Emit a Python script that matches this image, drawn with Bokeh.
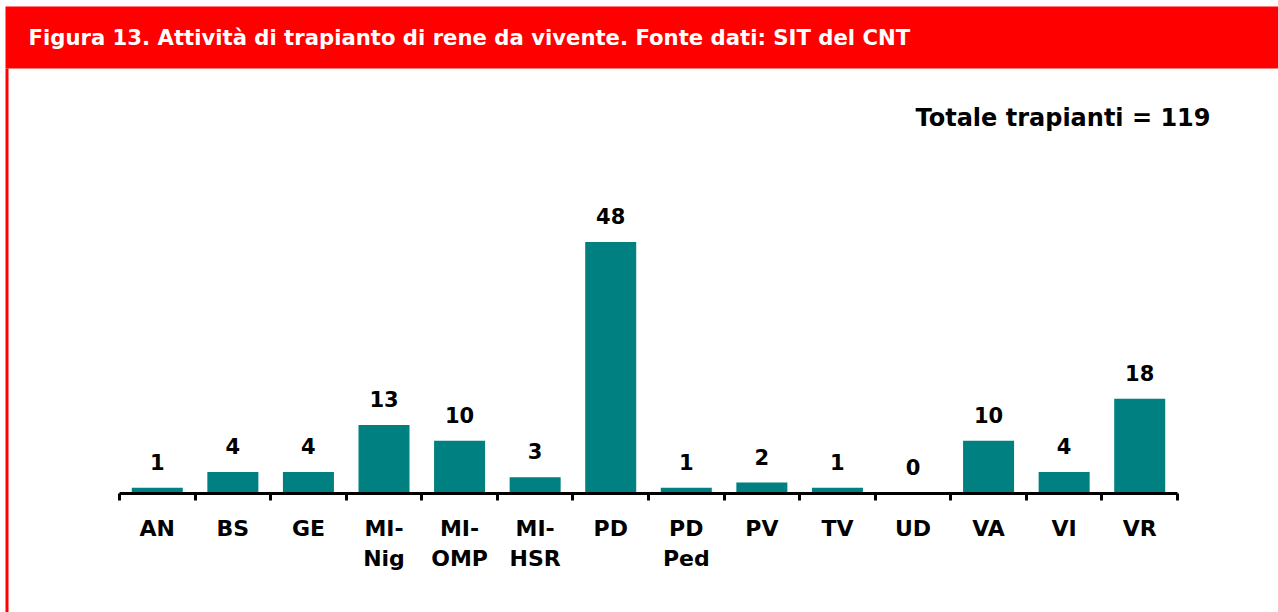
from bokeh.plotting import figure
from bokeh.models import (ColumnDataSource, Range1d, LinearAxis,
                          FixedTicker, LabelSet, Label, BoxAnnotation)
from bokeh.core.properties import value
from bokeh.embed import file_html
from bokeh.resources import INLINE

categories = ["AN", "BS", "GE", "MI-Nig", "MI-OMP", "MI-HSR", "PD", "PD Ped", "PV", "TV", "UD", "VA", "VI", "VR"]
tick_labels = ["AN", "BS", "GE", "MI-\nNig", "MI-\nOMP", "MI-\nHSR", "PD", "PD\nPed", "PV", "TV", "UD", "VA", "VI", "VR"]
values = [1, 4, 4, 13, 10, 3, 48, 1, 2, 1, 0, 10, 4, 18]
title_text = "Figura 13. Attività di trapianto di rene da vivente. Fonte dati: SIT del CNT"
total_text = "Totale trapianti = 119"

FONT = "DejaVu Sans"
RED = "#ff0000"
TEAL = "#008080"

W, H = 1278, 612
PLOT_L, PLOT_R = 119, 1177   # pixel span of the category area
AXIS_Y = 492.5               # pixel row of the x axis
PX_PER_UNIT = 5.23

n = len(categories)
u = (PLOT_R - PLOT_L) / n
centers = [i + 0.5 for i in range(n)]
src = ColumnDataSource(dict(x=centers, val=values, lab=[str(v) for v in values]))

p = figure(width=W, height=H, output_backend="svg", toolbar_location=None,
           x_range=Range1d(-PLOT_L / u, n + (W - PLOT_R) / u),
           y_range=Range1d(-(H - AXIS_Y) / PX_PER_UNIT, AXIS_Y / PX_PER_UNIT),
           x_axis_location=None, y_axis_location=None,
           min_border_left=0, min_border_right=0, min_border_top=0, min_border_bottom=0)
p.grid.visible = False
p.outline_line_color = None
p.background_fill_color = "white"
p.border_fill_color = "white"

p.vbar(x="x", top="val", width=0.675, source=src, color=TEAL, line_color=None)

p.add_layout(LabelSet(x="x", y="val", text="lab", source=src, y_offset=18,
                      text_align="center", text_baseline="alphabetic",
                      text_font=value(FONT), text_font_style="bold", text_font_size="21px",
                      text_color="black"))

axis = LinearAxis(ticker=FixedTicker(ticks=centers, minor_ticks=list(range(n + 1))),
                  bounds=(0, n), fixed_location=0,
                  axis_line_width=3, axis_line_color="black",
                  major_tick_line_color=None, major_tick_in=0, major_tick_out=0,
                  minor_tick_line_width=3, minor_tick_line_color="black",
                  minor_tick_in=0, minor_tick_out=7,
                  major_label_text_font=FONT, major_label_text_font_style="bold",
                  major_label_text_font_size="22px", major_label_text_color="black",
                  major_label_standoff=16,
                  major_label_overrides={c: t for c, t in zip(centers, tick_labels)})
p.add_layout(axis, "below")

# header band and left frame border
p.add_layout(BoxAnnotation(left=5, right=W, top=6, bottom=68,
                           left_units="canvas", right_units="canvas", top_units="canvas", bottom_units="canvas",
                           fill_color=RED, fill_alpha=1, line_color=None, level="overlay"))
p.add_layout(BoxAnnotation(left=5, right=8, top=68, bottom=H,
                           left_units="canvas", right_units="canvas", top_units="canvas", bottom_units="canvas",
                           fill_color=RED, fill_alpha=1, line_color=None, level="overlay"))
p.add_layout(Label(x=28, y=37, x_units="canvas", y_units="canvas", text=title_text,
                   text_baseline="middle", text_align="left", text_color="white",
                   text_font=FONT, text_font_style="bold", text_font_size="21.2px", level="overlay"))
p.add_layout(Label(x=1210, y=117, x_units="canvas", y_units="canvas", text=total_text,
                   text_baseline="alphabetic", text_align="right", text_color="black",
                   text_font=FONT, text_font_style="bold", text_font_size="24px"))

open("out.html", "w").write(file_html(p, INLINE))
